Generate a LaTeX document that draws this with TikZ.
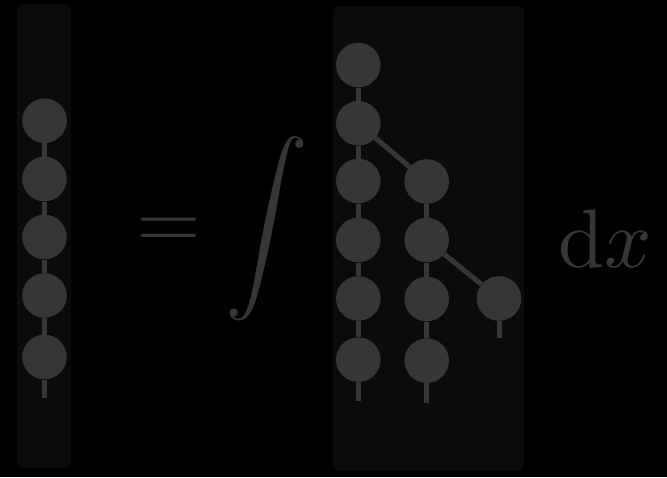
\documentclass[tikz,border=0pt]{standalone}
\usepackage{graphicx}
\definecolor{panelgray}{HTML}{0B0B0B}
\definecolor{beadgray}{HTML}{363636}
\tikzset{
  bead/.style={circle, fill=beadgray, minimum size=44.6pt, inner sep=0pt},
  link/.style={draw=beadgray, line width=5pt},
  panel/.style={fill=panelgray, rounded corners=7pt},
  sym/.style={text=beadgray, inner sep=0pt}
}
\begin{document}
\begin{tikzpicture}[x=1pt, y=-1pt]
  \fill[black] (0,0) rectangle (667,477);
  \useasboundingbox (0,0) rectangle (667,477);

  % background panels
  \path[panel] (17,4) rectangle (71,468);
  \path[panel] (333,6) rectangle (524,471);

  % single chain on the left
  \node[bead] (l1) at (44.5,120.7) {};
  \node[bead] (l2) at (44.5,179) {};
  \node[bead] (l3) at (44.5,237) {};
  \node[bead] (l4) at (44.5,295.5) {};
  \node[bead] (l5) at (44.5,357) {};
  \coordinate (lt) at (44.5,398);
  \draw[link] (l1) -- (l2) (l2) -- (l3) (l3) -- (l4) (l4) -- (l5) (l5) -- (lt);

  % branching chains on the right
  \node[bead] (a1) at (358.3,65) {};
  \node[bead] (a2) at (358.3,123.3) {};
  \node[bead] (a3) at (358.3,181) {};
  \node[bead] (a4) at (358.3,240) {};
  \node[bead] (a5) at (358.3,298.5) {};
  \node[bead] (a6) at (358.3,359.7) {};
  \coordinate (at) at (358.3,401);

  \node[bead] (b1) at (426.7,181.5) {};
  \node[bead] (b2) at (426.7,240) {};
  \node[bead] (b3) at (426.7,299) {};
  \node[bead] (b4) at (426.7,360.7) {};
  \coordinate (bt) at (426.7,402.7);

  \node[bead] (c1) at (499,298.5) {};
  \coordinate (ct) at (499,338);

  \draw[link] (a1) -- (a2) (a2) -- (a3) (a3) -- (a4) (a4) -- (a5) (a5) -- (a6) (a6) -- (at);
  \draw[link] (b1) -- (b2) (b2) -- (b3) (b3) -- (b4) (b4) -- (bt);
  \draw[link] (c1) -- (ct);
  \draw[link] (a2) -- (b1);
  \draw[link] (b2) -- (c1);

  % equation symbols
  \node[sym, anchor=base] (eq) at (168.5,248.5) {\scalebox{8.3}{$=$}};
  \node[sym] (int) at (267,228.5) {\scalebox{8.3}{$\displaystyle\int$}};
  \node[sym, anchor=base west] (dx) at (558,267) {\scalebox{8.3}{$\mathrm{d}x$}};
\end{tikzpicture}
\end{document}
